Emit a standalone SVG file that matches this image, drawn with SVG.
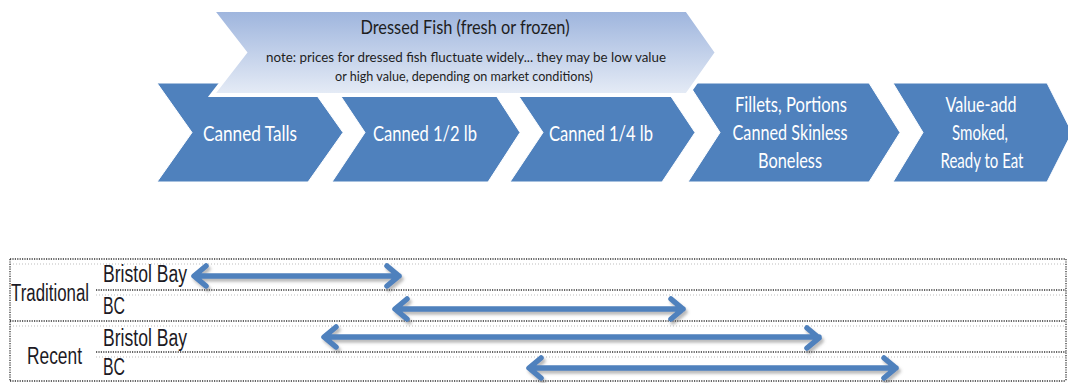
<svg xmlns="http://www.w3.org/2000/svg" width="1068" height="383" viewBox="0 0 1068 383">
<defs>
<linearGradient id="lg" x1="0" y1="0" x2="0" y2="1">
<stop offset="0" stop-color="#9db4dd"/>
<stop offset="1" stop-color="#e6ecf6"/>
</linearGradient>
<filter id="sh" x="-5%" y="-50%" width="110%" height="200%">
<feDropShadow dx="2" dy="3" stdDeviation="1.8" flood-color="#666" flood-opacity="0.45"/>
</filter>
<style>
.chev{fill:#4f81bd;stroke:#ffffff;stroke-width:1}
.ct{font-family:Lato,"Open Sans","Liberation Sans",sans-serif;font-size:22px;fill:#ffffff;text-anchor:middle}
.lt{font-family:Lato,"Open Sans","Liberation Sans",sans-serif;fill:#1e1e1e;text-anchor:middle}
.tb{font-family:"Liberation Sans",Arial,sans-serif;font-size:23px;fill:#1c1a24}
.dl{stroke:#333333;stroke-width:1.3;stroke-dasharray:1.2 1.2;fill:none}
.fl{stroke:#bdbdbd;stroke-width:1;stroke-dasharray:1 2;fill:none}
.arr{stroke:#4f81bd;stroke-width:5.5;fill:none;stroke-linecap:round;stroke-linejoin:round}
</style>
</defs>
<rect width="1068" height="383" fill="#ffffff"/>

<g id="canned-talls">
<path class="chev" d="M157,83 L308,83 L343,132.5 L308,182 L157,182 L192,132.5 Z"/>
<text class="ct" x="250" y="141" textLength="94" lengthAdjust="spacingAndGlyphs">Canned Talls</text>
</g>
<g id="canned-half">
<path class="chev" d="M332,83 L488,83 L520,132.5 L488,182 L332,182 L365,132.5 Z"/>
<text class="ct" x="425" y="141" textLength="104" lengthAdjust="spacingAndGlyphs">Canned 1/2 lb</text>
</g>
<g id="canned-quarter">
<path class="chev" d="M510,83 L662,83 L695,132.5 L662,182 L510,182 L543,132.5 Z"/>
<text class="ct" x="601" y="141" textLength="104" lengthAdjust="spacingAndGlyphs">Canned 1/4 lb</text>
</g>
<g id="fillets">
<path class="chev" d="M688,83 L869,83 L900,132.5 L869,182 L688,182 L720,132.5 Z"/>
<text class="ct" x="791" y="112" textLength="112" lengthAdjust="spacingAndGlyphs">Fillets, Portions</text>
<text class="ct" x="790" y="140" textLength="115" lengthAdjust="spacingAndGlyphs">Canned Skinless</text>
<text class="ct" x="790" y="168" textLength="64" lengthAdjust="spacingAndGlyphs">Boneless</text>
</g>
<g id="value-add">
<path class="chev" d="M893,83 L1047,83 L1072,132.5 L1047,182 L893,182 L923,132.5 Z"/>
<text class="ct" x="981" y="112" textLength="71" lengthAdjust="spacingAndGlyphs">Value-add</text>
<text class="ct" x="980" y="140" textLength="56" lengthAdjust="spacingAndGlyphs">Smoked,</text>
<text class="ct" x="982" y="168" textLength="83" lengthAdjust="spacingAndGlyphs">Ready to Eat</text>
</g>
<g id="dressed-fish">
<path d="M212,10 L687,10 L717,52.5 L687,95 L212,95 L245,52.5 Z" fill="url(#lg)" stroke="#ffffff" stroke-width="4" stroke-linejoin="miter"/>
<text class="lt" x="465" y="34" font-size="19" textLength="209" lengthAdjust="spacingAndGlyphs">Dressed Fish (fresh or frozen)</text>
<text class="lt" x="466" y="62" font-size="14" textLength="400" lengthAdjust="spacingAndGlyphs">note: prices for dressed fish fluctuate widely... they may be low value</text>
<text class="lt" x="464" y="81" font-size="14" textLength="258" lengthAdjust="spacingAndGlyphs">or high value, depending on market conditions)</text>
</g>

<g id="table">
<path class="fl" d="M10,264 H1066 M96,295 H1066 M10,326 H1066 M96,357 H1066"/>
<path class="dl" d="M10,259 H1066 M96,290 H1066 M10,321 H1066 M96,352 H1066 M10,381 H1066 M10,259 V381 M1066,259 V381"/>
</g>
<g id="traditional">
<text class="tb" x="11" y="301" textLength="78" lengthAdjust="spacingAndGlyphs">Traditional</text>
<text class="tb" x="103" y="282" textLength="84" lengthAdjust="spacingAndGlyphs">Bristol Bay</text>
<text class="tb" x="103" y="314" textLength="22" lengthAdjust="spacingAndGlyphs">BC</text>
</g>
<g id="recent">
<text class="tb" x="27" y="364" textLength="55" lengthAdjust="spacingAndGlyphs">Recent</text>
<text class="tb" x="103" y="346" textLength="84" lengthAdjust="spacingAndGlyphs">Bristol Bay</text>
<text class="tb" x="103" y="375" textLength="22" lengthAdjust="spacingAndGlyphs">BC</text>
</g>

<g id="connectors" filter="url(#sh)">
<path class="arr" d="M195,276 H399 M206,266 L194,276 L206,286 M387,266 L399,276 L387,286"/>
<path class="arr" d="M396,309 H683 M407,299 L395,309 L407,319 M671,299 L683,309 L671,319"/>
<path class="arr" d="M325,337 H819 M336,327 L324,337 L336,347 M807,328 L819,338 L807,348"/>
<path class="arr" d="M530,368 H896 M541,358 L529,368 L541,378 M884,358 L896,368 L884,378"/>
</g>
</svg>
